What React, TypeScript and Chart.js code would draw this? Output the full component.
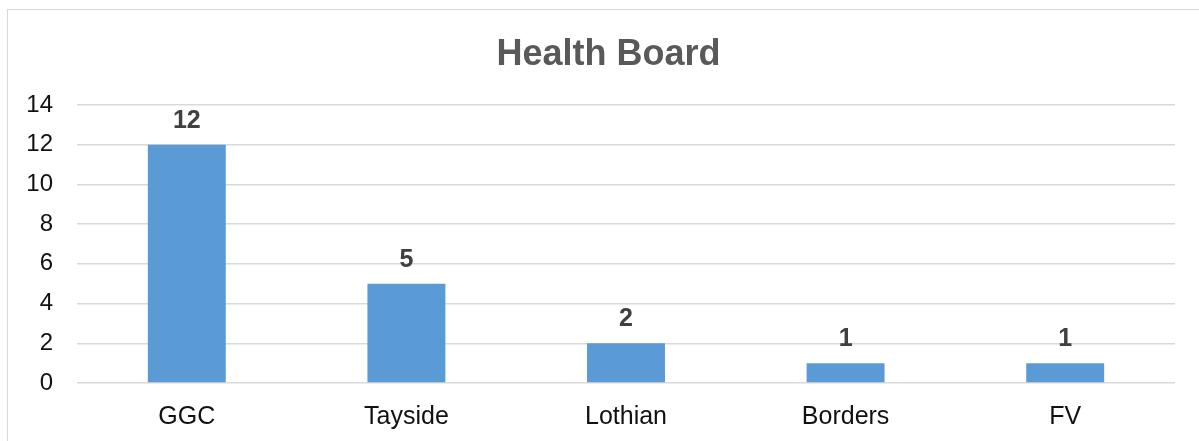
import React, { useEffect, useRef } from "react";
import { Chart, registerables } from "chart.js";

Chart.register(...registerables);

const categories = ["GGC", "Tayside", "Lothian", "Borders", "FV"];
const values = [12, 5, 2, 1, 1];
const yTicks = [0, 2, 4, 6, 8, 10, 12, 14];
const titleText = "Health Board";

const FONT = "'Liberation Sans', Arial, Helvetica, sans-serif";

const dataLabelPlugin = {
  id: "dataLabels",
  afterDatasetsDraw(chart: any) {
    const ctx = chart.ctx;
    const meta = chart.getDatasetMeta(0);
    ctx.save();
    ctx.font = `bold 25px ${FONT}`;
    ctx.fillStyle = "#404040";
    ctx.textAlign = "center";
    ctx.textBaseline = "alphabetic";
    meta.data.forEach((bar: any, i: number) => {
      const v = chart.data.datasets[0].data[i];
      ctx.fillText(String(v), bar.x, bar.y - 17);
    });
    ctx.restore();
  },
};

const titlePlugin = {
  id: "customTitle",
  afterDraw(chart: any) {
    const ctx = chart.ctx;
    ctx.save();
    ctx.font = `bold 36px ${FONT}`;
    ctx.fillStyle = "#595959";
    ctx.textAlign = "center";
    ctx.textBaseline = "alphabetic";
    ctx.fillText(titleText, 608.5, 64.5);
    ctx.restore();
  },
};

export default function App() {
  const ref = useRef<HTMLCanvasElement | null>(null);

  useEffect(() => {
    document.body.style.margin = "0";
    document.body.style.overflow = "hidden";
    if (!ref.current) return;
    const chart = new Chart(ref.current, {
      type: "bar",
      data: {
        labels: categories,
        datasets: [
          {
            data: values,
            backgroundColor: "#5B9BD5",
            borderWidth: 0,
            barPercentage: 0.355,
            categoryPercentage: 1,
          },
        ],
      },
      options: {
        animation: false,
        responsive: false,
        maintainAspectRatio: false,
        devicePixelRatio: 1,
        layout: { padding: { left: 0, right: 24, top: 105, bottom: 0 } },
        plugins: {
          legend: { display: false },
          tooltip: { enabled: false },
          title: { display: false },
        },
        scales: {
          x: {
            grid: { display: false, drawTicks: false },
            border: { display: false },
            ticks: {
              color: "#111111",
              font: { family: FONT, size: 25 },
              padding: 19,
            },
            afterFit: (scale: any) => {
              scale.height = 58;
            },
          },
          y: {
            min: 0,
            max: 14,
            afterBuildTicks: (scale: any) => {
              scale.ticks = yTicks.map((v) => ({ value: v }));
            },
            grid: { color: "#D9D9D9", lineWidth: 1.5, drawTicks: false },
            border: { display: false },
            ticks: {
              color: "#111111",
              font: { family: FONT, size: 24 },
              padding: 24,
            },
            afterFit: (scale: any) => {
              scale.width = 77;
            },
          },
        },
      },
      plugins: [dataLabelPlugin, titlePlugin],
    });
    return () => chart.destroy();
  }, []);

  return (
    <div style={{ position: "relative", width: 1199, height: 441, overflow: "hidden" }}>
      <div
        style={{
          position: "absolute",
          left: 7,
          top: 9,
          width: 1300,
          height: 600,
          border: "1.5px solid #D9D9D9",
          boxSizing: "border-box",
        }}
      />
      <canvas
        ref={ref}
        width={1199}
        height={441}
        style={{ position: "absolute", left: 0, top: 0, width: 1199, height: 441 }}
      />
    </div>
  );
}
